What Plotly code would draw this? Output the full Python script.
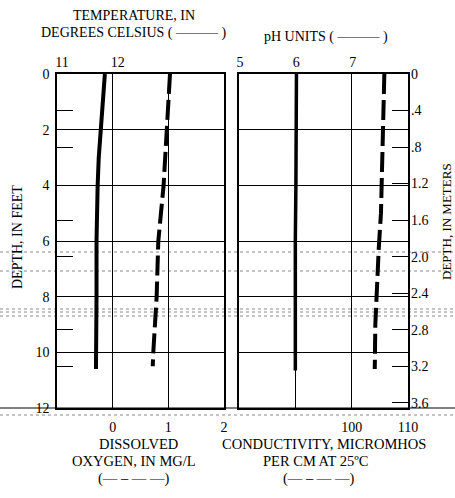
import plotly.graph_objects as go

# ---------------- data ----------------
temp_depth_ft = [0, 1, 2, 3, 4, 6, 8, 10, 10.6]
temperature_c = [11.86, 11.82, 11.78, 11.75, 11.73, 11.71, 11.71, 11.70, 11.70]

do_depth_ft = [0, 2, 4, 6, 8, 10, 10.5]
dissolved_oxygen = [1.03, 0.975, 0.915, 0.82, 0.79, 0.73, 0.72]

ph_depth_ft = [0, 2, 4, 6, 8, 10, 10.65]
ph_units = [6.02, 6.02, 6.01, 6.0, 6.0, 6.0, 6.0]

cond_depth_ft = [0, 1, 3, 5, 6.3, 7.7, 9, 10.6]
conductivity = [105.8, 105.7, 105.4, 105.2, 104.8, 104.5, 104.2, 104.1]

feet_ticks = [0, 2, 4, 6, 8, 10, 12]
meter_ticks = [0, 0.4, 0.8, 1.2, 1.6, 2.0, 2.4, 2.8, 3.2, 3.6]
meter_labels = ["0", ".4", ".8", "1.2", "1.6", "2.0", "2.4", "2.8", "3.2", "3.6"]
left_meter_ticks = [0.4, 0.8, 1.6, 2.0, 2.8, 3.2]
temp_ticks = [11, 12]
do_ticks = [0, 1, 2]
ph_ticks = [5, 6, 7]
cond_ticks = [90, 100, 110]
cond_labels = ["", "100", "110"]

FT_TO_M = 0.3048
FONT = "Liberation Serif"

# ---------------- layout geometry ----------------
L, R, T, B = 57, 47, 74, 90
W, H = 455, 498
PW, PH = W - L - R, H - T - B


def px(x):
    return (x - L) / PW


def py(y):
    return (H - B - y) / PH


fig = go.Figure()

fig.add_trace(go.Scatter(x=temperature_c, y=temp_depth_ft, xaxis="x2", yaxis="y",
                         mode="lines", line=dict(color="black", width=4), showlegend=False))
fig.add_trace(go.Scatter(x=dissolved_oxygen, y=do_depth_ft, xaxis="x", yaxis="y",
                         mode="lines", line=dict(color="black", width=4, dash="20px,6px"),
                         showlegend=False))
fig.add_trace(go.Scatter(x=ph_units, y=ph_depth_ft, xaxis="x4", yaxis="y3",
                         mode="lines", line=dict(color="black", width=3.5), showlegend=False))
fig.add_trace(go.Scatter(x=conductivity, y=cond_depth_ft, xaxis="x3", yaxis="y3",
                         mode="lines", line=dict(color="black", width=4, dash="20px,6px"),
                         showlegend=False))
# carriers for the metre axes
fig.add_trace(go.Scatter(x=[None], y=[None], xaxis="x3", yaxis="y2", showlegend=False,
                         hoverinfo="skip"))
fig.add_trace(go.Scatter(x=[None], y=[None], xaxis="x", yaxis="y4", showlegend=False,
                         hoverinfo="skip"))

tickfont = dict(family=FONT, size=14, color="black")
d_left = [0, px(224)]
d_right = [px(239), 1]
m_range = [12 * FT_TO_M, 0]

common_x = dict(showline=True, linecolor="black", linewidth=1.5, ticks="",
                tickfont=tickfont, zeroline=False, fixedrange=True, automargin=False)

fig.update_layout(
    width=W, height=H,
    margin=dict(l=L, r=R, t=T, b=B, pad=0),
    paper_bgcolor="white", plot_bgcolor="white",
    font=dict(family=FONT, color="black"),
    xaxis=dict(domain=d_left, range=[-1, 2], anchor="y", side="bottom",
               tickvals=do_ticks, showgrid=True, gridcolor="black", gridwidth=1,
               mirror=True, ticklabelstandoff=5, **common_x),
    xaxis2=dict(range=[11, 14], overlaying="x", anchor="y", side="top",
                tickvals=temp_ticks, showgrid=False, ticklabelshift=5,
                ticklabelstandoff=0, **common_x),
    xaxis3=dict(domain=d_right, range=[80, 110], anchor="y3", side="bottom",
                tickvals=cond_ticks, ticktext=cond_labels, showgrid=True,
                gridcolor="black", gridwidth=1, mirror=True, ticklabelstandoff=5,
                **common_x),
    xaxis4=dict(range=[5, 8], overlaying="x3", anchor="y3", side="top",
                tickvals=ph_ticks, showgrid=False, ticklabelshift=1,
                ticklabelstandoff=0, **common_x),
    yaxis=dict(domain=[0, 1], range=[12, 0], anchor="x", side="left",
               tickvals=feet_ticks, showgrid=True, gridcolor="black", gridwidth=1,
               showline=True, linecolor="black", linewidth=1.5, mirror=True,
               ticks="", tickfont=tickfont, zeroline=False, ticklabelstandoff=3,
               fixedrange=True, automargin=False),
    yaxis3=dict(domain=[0, 1], range=[12, 0], anchor="x3", matches="y",
                tickvals=feet_ticks, showgrid=True, gridcolor="black", gridwidth=1,
                showline=True, linecolor="black", linewidth=1.5, mirror=True,
                ticks="", showticklabels=False, zeroline=False, fixedrange=True,
                automargin=False),
    yaxis2=dict(range=m_range, overlaying="y3", anchor="x3", side="right",
                tickvals=meter_ticks, ticktext=meter_labels, ticks="inside",
                ticklen=16, tickwidth=1, tickcolor="black", showgrid=False,
                showline=False, zeroline=False, tickfont=tickfont,
                ticklabelstandoff=2, fixedrange=True, automargin=False),
    yaxis4=dict(range=m_range, overlaying="y", anchor="x", side="left",
                tickvals=left_meter_ticks, ticks="inside", ticklen=16, tickwidth=1,
                tickcolor="black", showticklabels=False, showgrid=False,
                showline=False, zeroline=False, fixedrange=True, automargin=False),
)

ann = dict(showarrow=False, xref="paper", yref="paper", xanchor="center",
           yanchor="middle")
texts = [
    ("TEMPERATURE, IN", 134, 15, 14),
    ("DEGREES CELSIUS ( ——— )", 133, 33, 14),
    ("pH UNITS ( ——— )", 326, 37, 14),
    ("DISSOLVED", 138, 444, 14.5),
    ("OXYGEN, IN MG/L", 134, 461, 14.5),
    ("(— – — —)", 133, 478, 14.5),
    ("CONDUCTIVITY, MICROMHOS", 324, 444, 14.5),
    ("PER CM AT 25ºC", 315, 461, 14.5),
    ("(— – — —)", 318, 478, 14.5),
]
for t, x, y, s in texts:
    fig.add_annotation(text=t, x=px(x), y=py(y),
                       font=dict(family=FONT, size=s, color="black"), **ann)
fig.add_annotation(text="DEPTH, IN FEET", x=px(17), y=py(237), textangle=-90,
                   font=dict(family=FONT, size=14, color="black"), **ann)
fig.add_annotation(text="DEPTH, IN METERS", x=px(446), y=py(222), textangle=-90,
                   font=dict(family=FONT, size=13, color="black"), **ann)

# base rule across the whole sheet at the 12-ft line
fig.add_shape(type="line", xref="paper", yref="paper", x0=px(0), x1=px(W),
              y0=py(408), y1=py(408), line=dict(color="black", width=1))
# faint dotted scan lines seen on the original sheet
for yy in [252, 271, 309, 312, 316, 415]:
    fig.add_shape(type="line", xref="paper", yref="paper", x0=px(0), x1=px(W),
                  y0=py(yy), y1=py(yy), line=dict(color="#888888", width=1, dash="dot"),
                  layer="below")

fig.write_html("out.html", config={"displayModeBar": False},
               post_script="document.body.style.margin='0';")
